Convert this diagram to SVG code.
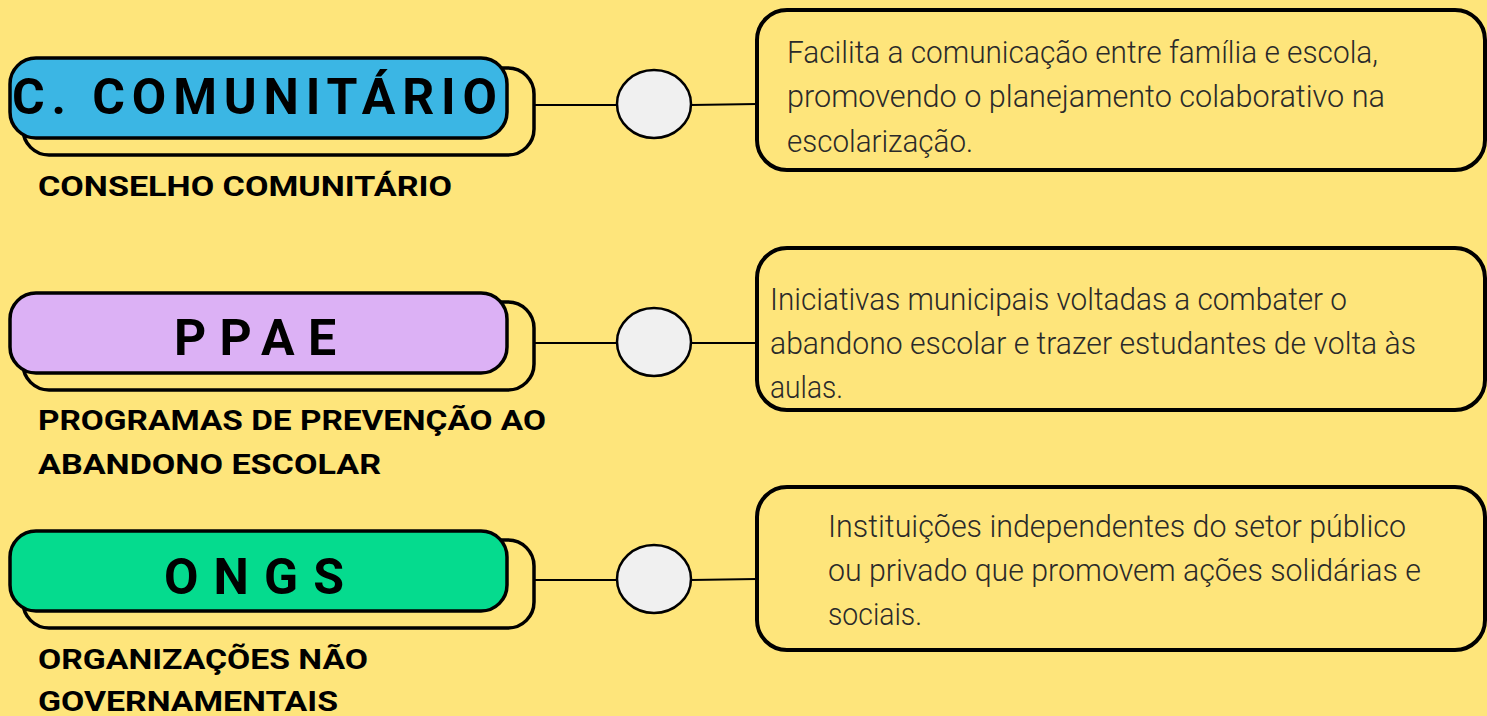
<svg xmlns="http://www.w3.org/2000/svg" width="1487" height="716" viewBox="0 0 1487 716">
<style>
.bg{fill:#FEE57B}
.back{fill:#FEE57B;stroke:#000;stroke-width:3.5}
.front{stroke:#000;stroke-width:3.5}
.title{font-family:Roboto,"Liberation Sans",sans-serif;font-weight:700;font-size:50px;fill:#000}
.sub{font-family:Roboto,"Liberation Sans",sans-serif;font-weight:700;font-size:28px;fill:#000}
.box{fill:#FEE57B;stroke:#000;stroke-width:4}
.body{font-family:Roboto,"Liberation Sans",sans-serif;font-weight:300;font-size:31px;fill:#2a2a2a}
.dot{fill:#F0F0F0;stroke:#000;stroke-width:2.5}
.conn{stroke:#000;stroke-width:2;fill:none}
</style>
<rect class="bg" x="0" y="0" width="1487" height="716"/>
<g id="connectors">
<line class="conn" x1="534" y1="105" x2="618" y2="105"/>
<line class="conn" x1="691" y1="105" x2="757" y2="104"/>
<line class="conn" x1="534" y1="343" x2="618" y2="343"/>
<line class="conn" x1="691" y1="343" x2="757" y2="343"/>
<line class="conn" x1="534" y1="580" x2="618" y2="580"/>
<line class="conn" x1="691" y1="580" x2="757" y2="579"/>
</g>
<g id="node-comunitario">
<rect class="back" x="23" y="68" width="511" height="87" rx="26"/>
<rect class="front" x="10" y="58" width="497" height="80" rx="26" fill="#3BB6E4"/>
<text class="title" x="12" y="114" textLength="485" lengthAdjust="spacing">C. COMUNITÁRIO</text>
<text class="sub" x="38" y="196" textLength="414" lengthAdjust="spacingAndGlyphs">CONSELHO COMUNITÁRIO</text>
</g>
<g id="node-ppae">
<rect class="back" x="23" y="302" width="511" height="88" rx="26"/>
<rect class="front" x="10" y="293" width="497" height="80" rx="26" fill="#DCB1F5"/>
<text class="title" x="174" y="355" textLength="162" lengthAdjust="spacing">PPAE</text>
<text class="sub" x="38" y="430" textLength="508" lengthAdjust="spacingAndGlyphs">PROGRAMAS DE PREVENÇÃO AO</text>
<text class="sub" x="38" y="474" textLength="343" lengthAdjust="spacingAndGlyphs">ABANDONO ESCOLAR</text>
</g>
<g id="node-ongs">
<rect class="back" x="23" y="540" width="511" height="88" rx="26"/>
<rect class="front" x="10" y="531" width="497" height="80" rx="26" fill="#05DB8E"/>
<text class="title" x="164" y="594" textLength="180" lengthAdjust="spacing">ONGS</text>
<text class="sub" x="38" y="669" textLength="330" lengthAdjust="spacingAndGlyphs">ORGANIZAÇÕES NÃO</text>
<text class="sub" x="38" y="711" textLength="300" lengthAdjust="spacingAndGlyphs">GOVERNAMENTAIS</text>
</g>
<g id="dot-1"><ellipse class="dot" cx="654" cy="104" rx="37" ry="34"/></g>
<g id="dot-2"><ellipse class="dot" cx="654" cy="342" rx="37" ry="34"/></g>
<g id="dot-3"><ellipse class="dot" cx="654" cy="579" rx="37" ry="34"/></g>
<g id="desc-1">
<rect class="box" x="757" y="10" width="728" height="160" rx="30"/>
<text class="body" x="787" y="63" textLength="591" lengthAdjust="spacingAndGlyphs">Facilita a comunicação entre família e escola,</text>
<text class="body" x="787" y="107" textLength="598" lengthAdjust="spacingAndGlyphs">promovendo o planejamento colaborativo na</text>
<text class="body" x="787" y="152" textLength="186" lengthAdjust="spacingAndGlyphs">escolarização.</text>
</g>
<g id="desc-2">
<rect class="box" x="757" y="248" width="728" height="162" rx="30"/>
<text class="body" x="770" y="310" textLength="577" lengthAdjust="spacingAndGlyphs">Iniciativas municipais voltadas a combater o</text>
<text class="body" x="770" y="354" textLength="646" lengthAdjust="spacingAndGlyphs">abandono escolar e trazer estudantes de volta às</text>
<text class="body" x="770" y="398" textLength="73" lengthAdjust="spacingAndGlyphs">aulas.</text>
</g>
<g id="desc-3">
<rect class="box" x="757" y="487" width="728" height="163" rx="30"/>
<text class="body" x="828" y="537" textLength="578" lengthAdjust="spacingAndGlyphs">Instituições independentes do setor público</text>
<text class="body" x="828" y="581" textLength="593" lengthAdjust="spacingAndGlyphs">ou privado que promovem ações solidárias e</text>
<text class="body" x="828" y="625" textLength="94" lengthAdjust="spacingAndGlyphs">sociais.</text>
</g>
</svg>
